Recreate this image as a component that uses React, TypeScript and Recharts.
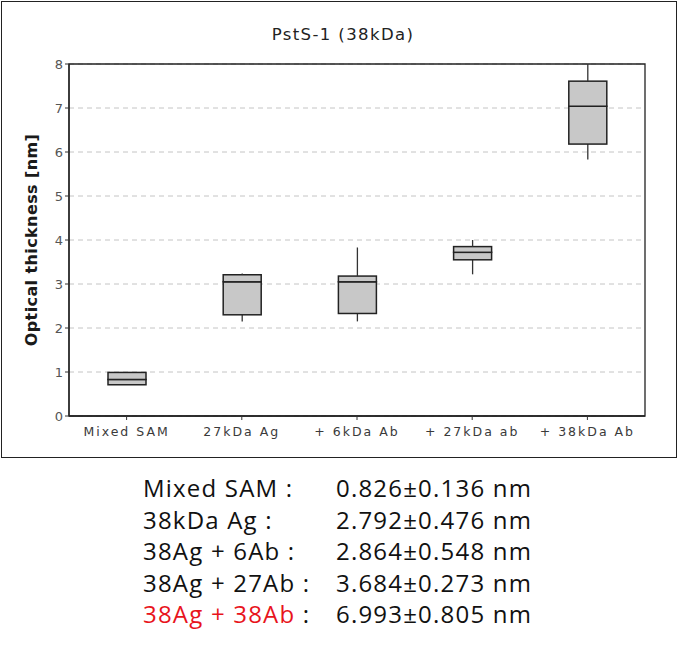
import {
  Bar,
  CartesianGrid,
  ComposedChart,
  ReferenceArea,
  XAxis,
  YAxis,
} from "recharts";

const categories = ["Mixed SAM", "27kDa Ag", "+ 6kDa Ab", "+ 27kDa ab", "+ 38kDa Ab"];
const mins = [0.71, 2.15, 2.15, 3.22, 5.83];
const q1s = [0.71, 2.3, 2.33, 3.55, 6.18];
const medians = [0.83, 3.05, 3.05, 3.72, 7.04];
const q3s = [0.99, 3.21, 3.18, 3.85, 7.61];
const maxs = [0.99, 3.24, 3.83, 4.0, 8.0];
const yTicks = [0, 1, 2, 3, 4, 5, 6, 7, 8];

const summaryLabels = ["Mixed SAM :", "38kDa Ag :", "38Ag + 6Ab :", "38Ag + 27Ab :", "38Ag + 38Ab"];
const summaryValues = ["0.826±0.136 nm", "2.792±0.476 nm", "2.864±0.548 nm", "3.684±0.273 nm", "6.993±0.805 nm"];

const chartData = categories.map((name, i) => ({
  name,
  base: mins[i],
  lowWhisker: q1s[i] - mins[i],
  lowBox: medians[i] - q1s[i],
  highBox: q3s[i] - medians[i],
  highWhisker: maxs[i] - q3s[i],
}));

const tickFont = { fontFamily: "'DejaVu Sans', sans-serif", fontSize: 12.5, fill: "#3a3a3a", letterSpacing: 2 };

function Whisker(props: any) {
  const { x, y, width, height } = props;
  if (!height) return null;
  const cx = x + width / 2;
  return <line x1={cx} x2={cx} y1={y} y2={y + height} stroke="#333" strokeWidth={1.3} />;
}

function BoxHalf(props: any) {
  const { x, y, width, height } = props;
  return (
    <rect
      x={x}
      y={y}
      width={width}
      height={Math.max(height, 0)}
      fill="#c8c8c8"
      stroke="#222"
      strokeWidth={1.5}
    />
  );
}

export default function App() {
  return (
    <div
      style={{
        position: "absolute",
        left: 0,
        top: 0,
        width: 678,
        height: 649,
        background: "#fff",
      }}
    >
      <div
        style={{
          position: "absolute",
          left: 1,
          top: 1,
          width: 674,
          height: 455,
          border: "1px solid #222",
        }}
      />
      <div
        style={{
          position: "absolute",
          left: 0,
          top: 25,
          width: 678,
          textAlign: "center",
          fontFamily: "'DejaVu Sans', sans-serif",
          fontSize: 16.5,
          letterSpacing: 1.4,
          color: "#222",
          paddingLeft: 4,
        }}
      >
        PstS-1 (38kDa)
      </div>
      <div style={{ position: "absolute", left: 0, top: 0 }}>
        <ComposedChart
          width={678}
          height={460}
          data={chartData}
          margin={{ top: 64, right: 33, bottom: 14, left: 0 }}
          barCategoryGap={0}
        >
          <CartesianGrid vertical={false} stroke="#c4c4c4" strokeDasharray="5 4" />
          <XAxis
            dataKey="name"
            tick={tickFont}
            tickLine={{ stroke: "#333" }}
            tickSize={4}
            tickMargin={7}
            axisLine={{ stroke: "#222", strokeWidth: 1.3 }}
            interval={0}
          />
          <YAxis
            width={69}
            domain={[0, 8]}
            ticks={yTicks}
            tick={{ ...tickFont, letterSpacing: 0, fontSize: 13, fill: "#555" }}
            tickLine={{ stroke: "#333" }}
            tickSize={4}
            axisLine={{ stroke: "#222", strokeWidth: 1.3 }}
            label={{
              value: "Optical thickness [nm]",
              angle: -90,
              position: "insideLeft",
              offset: 31,
              style: {
                textAnchor: "middle",
                fontFamily: "'DejaVu Sans', sans-serif",
                fontSize: 16,
                fontWeight: "bold",
                fill: "#1a1a1a",
                letterSpacing: 0.4,
              },
            }}
          />
          <ReferenceArea y1={0} y2={8} fill="none" stroke="#222" strokeWidth={1.3} ifOverflow="visible" />
          <Bar dataKey="base" stackId="box" fill="none" barSize={38} isAnimationActive={false} />
          <Bar dataKey="lowWhisker" stackId="box" barSize={38} shape={<Whisker />} isAnimationActive={false} />
          <Bar dataKey="lowBox" stackId="box" barSize={38} shape={<BoxHalf />} isAnimationActive={false} />
          <Bar dataKey="highBox" stackId="box" barSize={38} shape={<BoxHalf />} isAnimationActive={false} />
          <Bar dataKey="highWhisker" stackId="box" barSize={38} shape={<Whisker />} isAnimationActive={false} />
        </ComposedChart>
      </div>
      {summaryLabels.map((label, i) => (
        <div
          key={label}
          style={{
            position: "absolute",
            left: 0,
            top: 472 + i * 31.5,
            width: 678,
            height: 31.5,
            lineHeight: "31.5px",
            fontFamily: "'Open Sans', 'Noto Sans', sans-serif",
            fontSize: 24,
            letterSpacing: 1.2,
            color: "#111",
            whiteSpace: "nowrap",
          }}
        >
          <span style={{ position: "absolute", left: 143, color: i === 4 ? "#e8141c" : "#111" }}>
            {label}
            {i === 4 ? <span style={{ color: "#111" }}> :</span> : null}
          </span>
          <span style={{ position: "absolute", left: 336 }}>{summaryValues[i]}</span>
        </div>
      ))}
    </div>
  );
}
